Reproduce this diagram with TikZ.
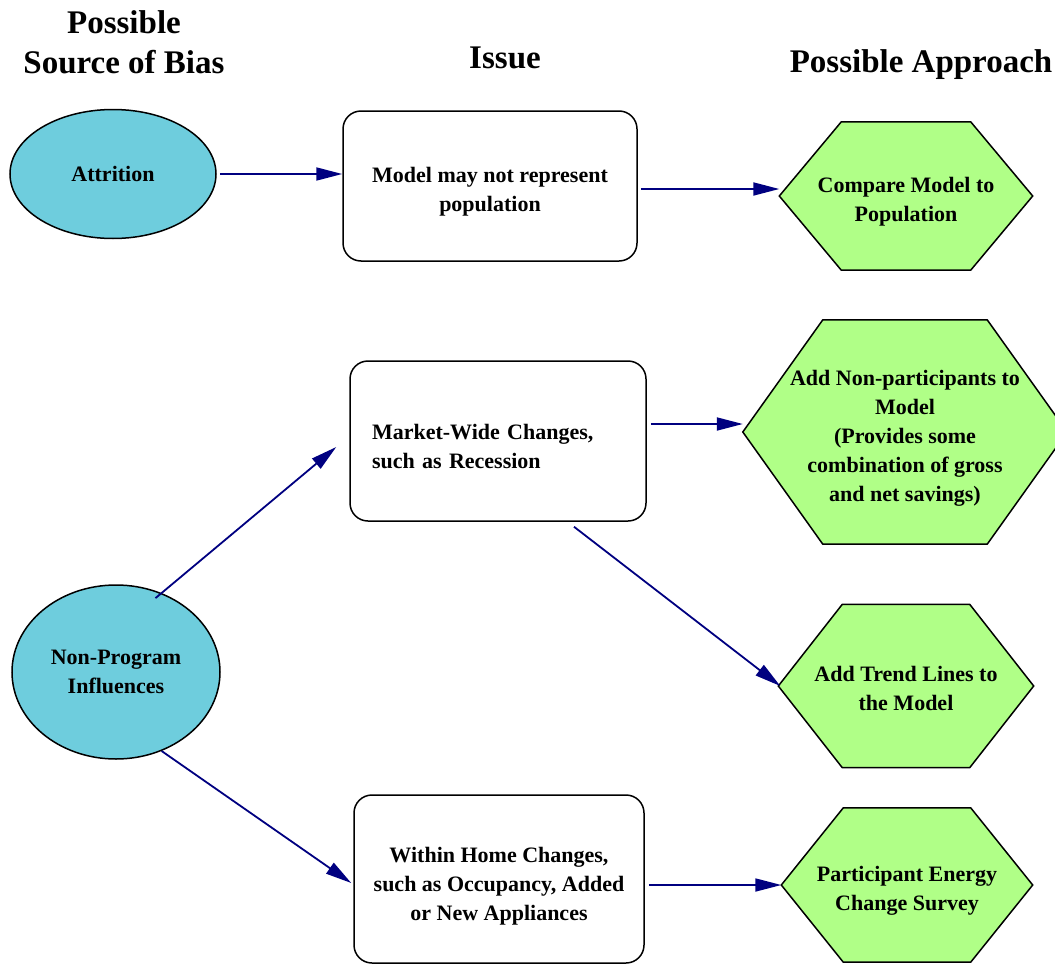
\documentclass[tikz,border=0pt]{standalone}
\usepackage{fontspec}
\setmainfont{Liberation Serif}
\usetikzlibrary{shapes.geometric,arrows.meta}
\pgfdeclarelayer{background}
\pgfsetlayers{background,main}
\definecolor{teal1}{RGB}{110,205,221}
\definecolor{hexgreen}{RGB}{176,255,135}
\definecolor{navy1}{RGB}{0,0,128}
\newcommand{\hexdraw}[2]{\draw[hexline] (#1.west) -- ([xshift=#2pt]#1.north west) -- ([xshift=-#2pt]#1.north east) -- (#1.east) -- ([xshift=-#2pt]#1.south east) -- ([xshift=#2pt]#1.south west) -- cycle;}
\newcommand{\lowstrut}{\rule{0pt}{27pt}}
\begin{document}
\begin{tikzpicture}[x=1pt,y=-1pt,
  every node/.style={font=\fontsize{22}{29}\selectfont\bfseries},
  header/.style={font=\fontsize{33}{40}\selectfont\bfseries, align=center},
  source/.style={ellipse, draw=black, line width=1.5pt, fill=teal1, inner sep=0pt, align=center},
  issue/.style={rectangle, rounded corners=18pt, draw=black, line width=1.5pt, fill=white, align=center, inner sep=0pt},
  hexnode/.style={rectangle, inner sep=0pt, align=center},
  hexline/.style={draw=black, line width=1.5pt, fill=hexgreen, line join=miter},
  arr/.style={draw=navy1, line width=1.8pt, -{Triangle[length=26pt,width=13pt]}}
]
\useasboundingbox (0,0) rectangle (1055,964);

% headers
\node[header] (hsrc) at (124,42) {Possible\\Source of Bias};
\node[header] (hissue) at (505,58) {Issue};
\node[header] (happr) at (921,65) {Possible Approach};

% sources
\node[source, minimum width=206pt, minimum height=129pt] (att) at (113,174) {Attrition};
\node[source, minimum width=208pt, minimum height=174pt] (np) at (116,672) {Non-Program\\Influences};

% issues
\node[issue, minimum width=294pt, minimum height=150pt] (box1) at (490,186) {\lowstrut Model may not represent\\population};
\node[issue, minimum height=160pt, text width=252pt, inner xsep=22pt, align=left] (box2) at (498,441) {\lowstrut Market-Wide Changes,\\such as Recession};
\node[issue, minimum width=290pt, minimum height=168pt] (box3) at (499,879) {\rule{0pt}{30pt}Within Home Changes,\\such as Occupancy, Added\\or New Appliances};

% approaches
\node[hexnode, minimum width=253pt, minimum height=148pt] (h1) at (906,196) {\lowstrut Compare Model to\\Population};
\node[hexnode, minimum width=324pt, minimum height=224pt] (h2) at (905,432) {\lowstrut Add Non-participants to\\Model\\(Provides some\\combination of gross\\and net savings)};
\node[hexnode, minimum width=255pt, minimum height=163pt] (h3) at (906,686) {\rule{0pt}{21pt}Add Trend Lines to\\the Model};
\node[hexnode, minimum width=251pt, minimum height=154pt] (h4) at (907,885) {\lowstrut Participant Energy\\Change Survey};

\begin{pgfonlayer}{background}
\hexdraw{h1}{62}
\hexdraw{h2}{80}
\hexdraw{h3}{64}
\hexdraw{h4}{62}
\end{pgfonlayer}

% connectors
\draw[arr] ([xshift=3pt]att.east) -- (att.east -| box1.west);
\draw[arr] ([xshift=3pt,yshift=-3pt]box1.east) -- ([yshift=7pt]h1.west);
\draw[arr, shorten <=-8pt] (np.60) -- ([xshift=-13pt,yshift=-6pt]box2.west);
\draw[arr] ([xshift=4pt,yshift=17pt]box2.east) -- ([yshift=8pt]h2.west);
\draw[arr] ([xshift=76pt,yshift=-5pt]box2.south) -- ([xshift=2pt]h3.west);
\draw[arr] (np.-60) -- ([xshift=-2pt,yshift=-4pt]box3.west);
\draw[arr] ([xshift=4pt,yshift=-6pt]box3.east) -- (h4.west);
\end{tikzpicture}
\end{document}
